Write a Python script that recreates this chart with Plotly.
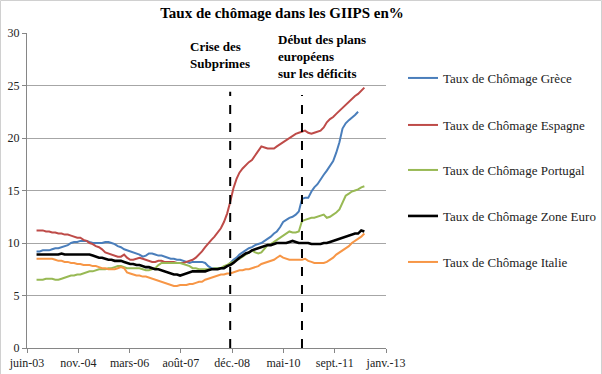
import pandas as pd
import plotly.graph_objects as go

# Monthly unemployment rates (%) from Oct 2003
greece = [
    9.2, 9.2, 9.3,
    9.3, 9.3, 9.4, 9.5, 9.5, 9.6, 9.7, 9.8, 10.0, 10.1, 10.1, 10.2,
    10.2, 10.2, 10.1, 10.0, 10.0, 10.0, 10.0, 10.1, 10.1, 10.0, 9.9, 9.7,
    9.6, 9.4, 9.3, 9.2, 9.1, 9.0, 8.9, 8.7, 8.8, 9.0, 9.0, 8.9,
    8.8, 8.8, 8.7, 8.6, 8.5, 8.5, 8.4, 8.4, 8.3, 8.2, 8.1, 8.2,
    8.2, 8.2, 8.2, 8.1, 7.8, 7.6, 7.6, 7.6, 7.6, 7.6, 7.8, 8.1,
    8.4, 8.6, 8.9, 9.1, 9.3, 9.5, 9.6, 9.8, 9.9, 10.0, 10.2, 10.4,
    10.6, 10.9, 11.1, 11.5, 12.0, 12.2, 12.4, 12.5, 12.7, 13.0, 14.2, 14.3,
    14.3, 14.9, 15.3, 15.6, 16.1, 16.5, 16.9, 17.3, 17.8, 18.6, 19.6, 20.9,
    21.4, 21.7, 21.9, 22.2, 22.5,
]
spain = [
    11.2, 11.2, 11.2,
    11.1, 11.1, 11.0, 11.0, 10.9, 10.9, 10.8, 10.8, 10.7, 10.6, 10.5, 10.5,
    10.3, 10.2, 10.0, 9.9, 9.7, 9.6, 9.4, 9.1, 9.0, 8.9, 8.8, 8.7,
    8.7, 8.9, 8.6, 8.4, 8.4, 8.5, 8.6, 8.5, 8.4, 8.3, 8.2, 8.2,
    8.3, 8.3, 8.2, 8.2, 8.2, 8.2, 8.1, 8.1, 8.1, 8.2, 8.3, 8.4,
    8.6, 8.9, 9.2, 9.6, 10.0, 10.3, 10.6, 11.0, 11.4, 12.0, 12.8, 13.9,
    15.2, 16.1, 16.7, 17.1, 17.4, 17.7, 17.9, 18.3, 18.8, 19.2, 19.1, 19.0,
    19.0, 19.0, 19.2, 19.4, 19.6, 19.8, 20.0, 20.2, 20.4, 20.5, 20.6, 20.7,
    20.5, 20.4, 20.5, 20.6, 20.7, 21.0, 21.5, 21.8, 22.0, 22.3, 22.6, 22.9,
    23.1, 23.4, 23.7, 24.0, 24.2, 24.5, 24.8,
]
portugal = [
    6.5, 6.5, 6.5,
    6.6, 6.6, 6.6, 6.5, 6.5, 6.6, 6.7, 6.8, 6.9, 6.9, 7.0, 7.0,
    7.1, 7.2, 7.3, 7.3, 7.4, 7.5, 7.5, 7.5, 7.6, 7.6, 7.7, 7.8,
    7.8, 7.7, 7.6, 7.6, 7.6, 7.6, 7.6, 7.5, 7.4, 7.4, 7.5, 7.6,
    7.9, 8.1, 8.1, 8.1, 8.1, 8.1, 8.1, 8.1, 8.0, 7.9, 7.8, 7.6,
    7.6, 7.5, 7.5, 7.5, 7.5, 7.5, 7.6, 7.6, 7.6, 7.8, 7.9, 8.1,
    8.2, 8.4, 8.5, 8.7, 8.9, 9.1, 9.3, 9.1, 9.0, 9.1, 9.5, 9.8,
    9.9, 10.1, 10.3, 10.5, 10.7, 10.9, 11.1, 11.0, 11.0, 11.1, 12.1, 12.2,
    12.3, 12.4, 12.4, 12.5, 12.6, 12.7, 12.4, 12.5, 12.7, 12.9, 13.2, 13.8,
    14.5, 14.7, 14.9, 15.0, 15.1, 15.3, 15.4,
]
euro = [
    8.9, 8.9, 8.9,
    8.9, 8.9, 8.9, 8.9, 8.9, 9.0, 8.9, 8.9, 8.9, 8.9, 8.9, 8.9,
    8.9, 8.9, 8.9, 8.8, 8.7, 8.6, 8.6, 8.5, 8.4, 8.4, 8.3, 8.3,
    8.3, 8.2, 8.1, 8.0, 8.0, 7.9, 7.9, 7.8, 7.7, 7.7, 7.6, 7.5,
    7.5, 7.4, 7.3, 7.2, 7.1, 7.0, 7.0, 6.9, 7.0, 7.1, 7.2, 7.3,
    7.3, 7.3, 7.3, 7.3, 7.4, 7.5, 7.5, 7.5, 7.6, 7.6, 7.8, 7.9,
    8.1, 8.4, 8.6, 8.8, 9.0, 9.1, 9.3, 9.4, 9.5, 9.6, 9.7, 9.8,
    9.8, 9.9, 10.0, 10.0, 10.0, 10.0, 10.1, 10.2, 10.1, 10.0, 10.0, 10.0,
    10.0, 9.9, 9.9, 9.9, 9.9, 10.0, 10.0, 10.1, 10.2, 10.3, 10.4, 10.5,
    10.6, 10.7, 10.8, 10.9, 10.9, 11.2, 11.1,
]
italy = [
    8.5, 8.5, 8.5,
    8.5, 8.5, 8.5, 8.4, 8.3, 8.3, 8.2, 8.2, 8.1, 8.1, 8.0, 8.0,
    7.9, 7.9, 7.9, 7.8, 7.8, 7.7, 7.6, 7.6, 7.5, 7.5, 7.5, 7.6,
    7.7, 7.6, 7.2, 7.1, 7.0, 6.9, 6.9, 6.8, 6.8, 6.7, 6.6, 6.5,
    6.4, 6.3, 6.2, 6.1, 6.0, 5.9, 5.9, 6.0, 6.0, 6.0, 6.1, 6.1,
    6.2, 6.3, 6.3, 6.5, 6.6, 6.7, 6.8, 6.9, 7.0, 7.0, 7.1, 7.1,
    7.2, 7.3, 7.4, 7.4, 7.5, 7.5, 7.6, 7.7, 7.8, 8.0, 8.1, 8.2,
    8.3, 8.4, 8.6, 8.8, 8.6, 8.5, 8.4, 8.4, 8.4, 8.4, 8.4, 8.5,
    8.3, 8.2, 8.1, 8.1, 8.1, 8.1, 8.2, 8.4, 8.6, 8.9, 9.1, 9.3,
    9.5, 9.7, 10.0, 10.2, 10.4, 10.6, 10.9,
]

series_names = [
    "Taux de Chômage Grèce",
    "Taux de Chômage Espagne",
    "Taux de Chômage Portugal",
    "Taux de Chômage Zone Euro",
    "Taux de Chômage Italie",
]
series_values = [greece, spain, portugal, euro, italy]
series_colors = ["#4a7ebb", "#be4b48", "#98b954", "#000000", "#f79646"]
series_widths = [2, 2, 2, 2.6, 2]

start_month = "2003-10-01"

tick_dates = ["2003-06-30", "2004-11-11", "2006-03-26", "2007-08-08",
              "2008-12-20", "2010-05-04", "2011-09-16", "2013-01-28"]
tick_labels = ["juin-03", "nov.-04", "mars-06", "août-07",
               "déc.-08", "mai-10", "sept.-11", "janv.-13"]

event_dates = ["2008-12-01", "2010-11-01"]
event_tops = [24.4, 24.1]
event_labels = ["Crise des<br>Subprimes", "Début des plans<br>européens<br>sur les déficits"]

title_text = "Taux de chômage dans les GIIPS en%"

SERIF = "Liberation Serif, Times New Roman, serif"
W, H = 602, 374
L, R, T, B = 27, 216, 33, 26
PW, PH = W - L - R, H - T - B

legend_centers = [78, 125, 170, 216, 262]

fig = go.Figure()
for i, (name, vals, col, w) in enumerate(zip(series_names, series_values, series_colors, series_widths)):
    dates = pd.date_range(start_month, periods=len(vals), freq="MS")
    lg = "legend" if i == 0 else f"legend{i + 1}"
    fig.add_trace(go.Scatter(
        x=dates, y=vals, mode="lines", name=name, legend=lg,
        line=dict(color=col, width=w),
    ))

for d, top in zip(event_dates, event_tops):
    fig.add_shape(type="line", xref="x", yref="y", x0=d, x1=d, y0=0, y1=top,
                  line=dict(color="black", width=2, dash="dash"))

# light frame around the figure
fig.add_shape(type="rect", xref="paper", yref="paper",
              x0=(0.5 - L) / PW, x1=(W - 0.5 - L) / PW,
              y0=(B - H + 0.5) / PH, y1=(H - 0.5 - B) / PH,
              line=dict(color="#d0d0d0", width=1))

fig.add_annotation(text=event_labels[0], xref="paper", yref="paper",
                   x=(188 - L) / PW, y=(H - B - 37) / PH, xanchor="left", yanchor="top",
                   align="left", showarrow=False,
                   font=dict(family=SERIF, size=13, color="black", weight="bold"))
fig.add_annotation(text=event_labels[1], xref="paper", yref="paper",
                   x=(276 - L) / PW, y=(H - B - 30) / PH, xanchor="left", yanchor="top",
                   align="left", showarrow=False,
                   font=dict(family=SERIF, size=13, color="black", weight="bold"))

legends = {}
for i, yc in enumerate(legend_centers):
    key = "legend" if i == 0 else f"legend{i + 1}"
    legends[key] = dict(x=403 / W, xref="container", y=1 - yc / H, yref="container",
                        xanchor="left", yanchor="middle",
                        font=dict(family=SERIF, size=13, color="#222222"),
                        bgcolor="rgba(0,0,0,0)", borderwidth=0)

fig.update_layout(
    width=W, height=H,
    margin=dict(l=L, r=R, t=T, b=B, autoexpand=False),
    paper_bgcolor="white", plot_bgcolor="white",
    title=dict(text=title_text, x=282 / W, xanchor="center", y=1 - 13 / H, yanchor="middle",
               font=dict(family=SERIF, size=15, color="black", weight="bold")),
    showlegend=True,
    xaxis=dict(type="date", range=["2003-06-30", "2013-01-28"], automargin=False,
               tickmode="array", tickvals=tick_dates, ticktext=tick_labels,
               showgrid=False, showline=True, linecolor="#868686", linewidth=1,
               ticks="outside", ticklen=4, tickcolor="#868686",
               tickfont=dict(family=SERIF, size=12, color="#222222"), zeroline=False),
    yaxis=dict(range=[0, 30], dtick=5, tick0=0, automargin=False,
               showgrid=True, gridcolor="#a6a6a6", gridwidth=1,
               showline=True, linecolor="#868686", linewidth=1,
               ticks="outside", ticklen=4, tickcolor="#868686",
               tickfont=dict(family=SERIF, size=12, color="#222222"), zeroline=False),
    **legends,
)

fig.write_html("out.html", config={"displayModeBar": False},
               post_script="document.body.style.margin='0px';document.body.style.padding='0px';")
